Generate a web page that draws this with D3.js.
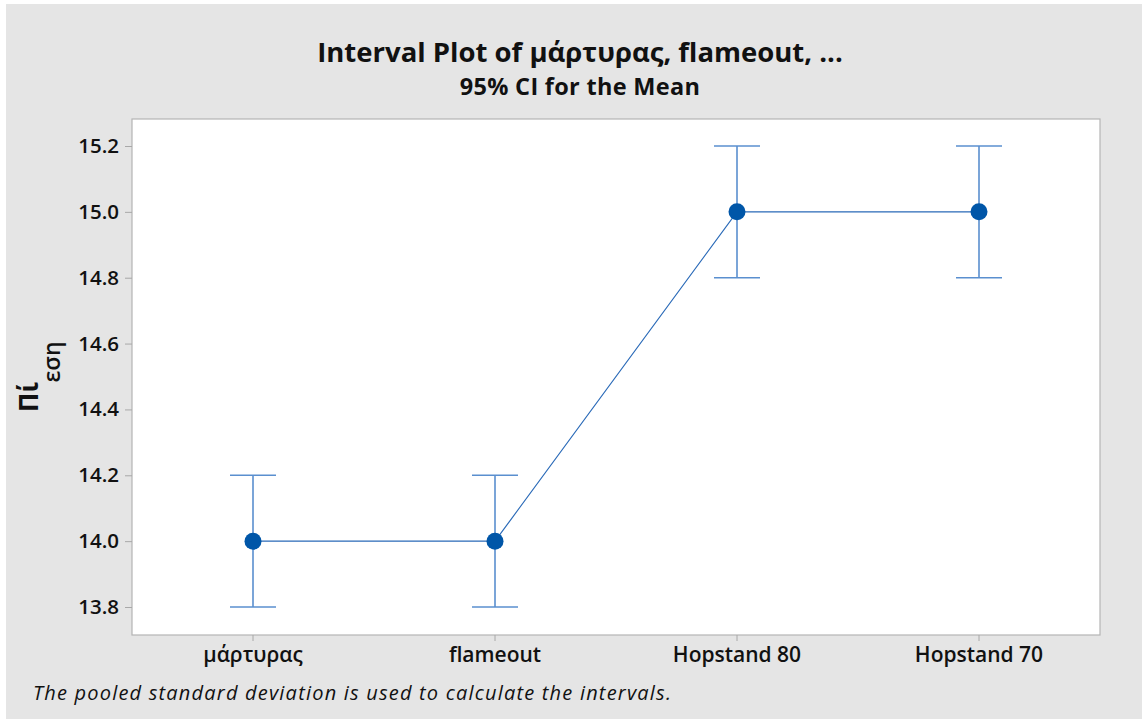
<!DOCTYPE html>
<html><head><meta charset="utf-8">
<script src="https://cdn.jsdelivr.net/npm/d3@7"></script>
<style>
html,body{margin:0;padding:0;background:#fff;}
svg{display:block;}
text{font-family:"Open Sans","Noto Sans",sans-serif;}
</style></head>
<body>
<svg id="chart" width="1142" height="719"></svg>
<script>
const categories = ["μάρτυρας", "flameout", "Hopstand 80", "Hopstand 70"];
const means = [14.0, 14.0, 15.0, 15.0];
const lower = [13.8, 13.8, 14.8, 14.8];
const upper = [14.2, 14.2, 15.2, 15.2];
const yTicks = [13.8, 14.0, 14.2, 14.4, 14.6, 14.8, 15.0, 15.2];

(function(){
const svg = d3.select("#chart");
svg.append("rect").attr("x", 6).attr("y", 4).attr("width", 1136).attr("height", 715).attr("fill", "#e5e5e5");

const pL = 132, pR = 1100, pT = 119, pB = 635;
const x = d3.scaleBand().domain(categories).range([pL, pR]);
const y = d3.scaleLinear().domain([13.715, 15.282]).range([pB, pT]);

svg.append("rect").attr("x", pL).attr("y", pT).attr("width", pR - pL).attr("height", pB - pT)
  .attr("fill", "#fff").attr("stroke", "#b4b4b4").attr("stroke-width", 1.2);

const yAxis = svg.append("g").attr("transform", `translate(${pL},0)`)
  .call(d3.axisLeft(y).tickValues(yTicks).tickFormat(d3.format(".1f")).tickSize(7).tickPadding(6));
yAxis.select(".domain").remove();
yAxis.selectAll("line").attr("stroke", "#a8a8a8");
yAxis.selectAll("text").attr("font-size", 20.5).attr("font-weight", 600).attr("fill", "#111")
  .style("font-family", '"Open Sans",sans-serif');

const xAxis = svg.append("g").attr("transform", `translate(0,${pB})`)
  .call(d3.axisBottom(x).tickSize(6).tickPadding(6));
xAxis.select(".domain").remove();
xAxis.selectAll("line").attr("stroke", "#a8a8a8");
xAxis.selectAll("text").attr("font-size", 21).attr("font-weight", 600).attr("fill", "#111")
  .style("font-family", '"Open Sans",sans-serif');

const cx = d => x(d) + x.bandwidth() / 2;
const data = categories.map((c, i) => ({c, m: means[i], lo: lower[i], hi: upper[i]}));

svg.append("path").datum(data)
  .attr("d", d3.line().x(d => cx(d.c)).y(d => y(d.m)))
  .attr("fill", "none").attr("stroke", "#2a6ab8").attr("stroke-width", 1.1);

const eb = svg.append("g").attr("stroke", "#5a8fcf").attr("stroke-width", 1.6);
data.forEach(d => {
  eb.append("line").attr("x1", cx(d.c)).attr("x2", cx(d.c)).attr("y1", y(d.lo)).attr("y2", y(d.hi));
  eb.append("line").attr("x1", cx(d.c) - 23).attr("x2", cx(d.c) + 23).attr("y1", y(d.hi)).attr("y2", y(d.hi));
  eb.append("line").attr("x1", cx(d.c) - 23).attr("x2", cx(d.c) + 23).attr("y1", y(d.lo)).attr("y2", y(d.lo));
});

svg.append("g").selectAll("circle").data(data).join("circle")
  .attr("cx", d => cx(d.c)).attr("cy", d => y(d.m)).attr("r", 8.5).attr("fill", "#0056a8");

svg.append("text").attr("x", 580).attr("y", 62).attr("text-anchor", "middle")
  .attr("font-size", 27.5).attr("font-weight", 700).attr("fill", "#111")
  .text("Interval Plot of μάρτυρας, flameout, ...");
svg.append("text").attr("x", 580).attr("y", 95).attr("text-anchor", "middle")
  .attr("font-size", 23.5).attr("font-weight", 700).attr("fill", "#111")
  .attr("letter-spacing", 0.3)
  .text("95% CI for the Mean");

svg.append("text").attr("transform", "translate(38,397) rotate(-90)").attr("text-anchor", "middle")
  .attr("font-size", 26).attr("font-weight", 700).attr("fill", "#111").text("Πί");
svg.append("text").attr("transform", "translate(60,362) rotate(-90)").attr("text-anchor", "middle")
  .attr("font-size", 23).attr("font-weight", 600).attr("fill", "#111").text("εση");

svg.append("text").attr("x", 33).attr("y", 700)
  .attr("font-size", 20).attr("font-style", "italic").attr("fill", "#111")
  .attr("letter-spacing", 1.2)
  .text("The pooled standard deviation is used to calculate the intervals.");
})();
</script>
</body></html>
